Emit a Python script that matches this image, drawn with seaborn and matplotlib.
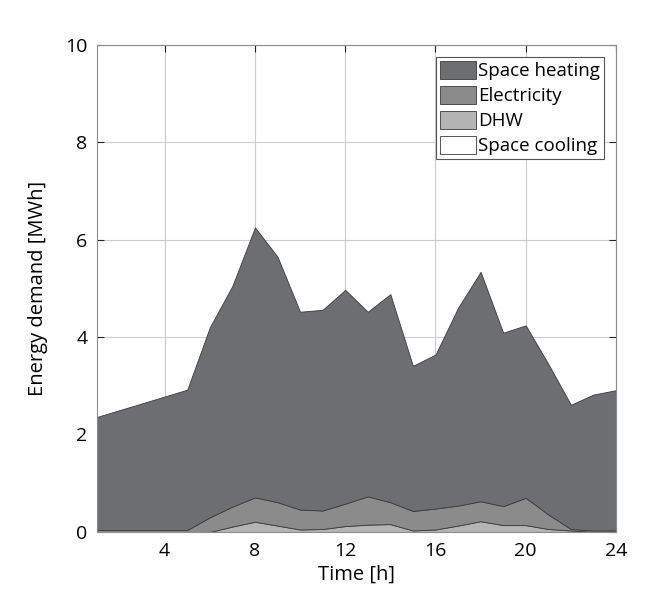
import numpy as np
import matplotlib
matplotlib.use("Agg")
import matplotlib.pyplot as plt
import seaborn as sns

# hourly energy demand [MWh]
hours = list(range(1, 25))
space_cooling = [0.0] * 24
dhw = [0.0, 0.0, 0.0, 0.0, 0.0, 0.0, 0.11, 0.21, 0.13, 0.05, 0.06, 0.12,
       0.15, 0.16, 0.03, 0.05, 0.13, 0.22, 0.14, 0.14, 0.06, 0.03, 0.0, 0.0]
electricity = [0.04, 0.04, 0.04, 0.04, 0.04, 0.30, 0.41, 0.50, 0.48, 0.41, 0.38, 0.46,
               0.58, 0.45, 0.40, 0.43, 0.41, 0.41, 0.39, 0.56, 0.30, 0.03, 0.03, 0.03]
space_heating = [2.32, 2.46, 2.60, 2.74, 2.88, 3.90, 4.53, 5.54, 5.04, 4.06, 4.12, 4.39,
                 3.79, 4.27, 2.98, 3.16, 4.06, 4.71, 3.56, 3.54, 3.09, 2.55, 2.79, 2.88]

labels = ["Space cooling", "DHW", "Electricity", "Space heating"]
colors = ["#ffffff", "#b4b4b4", "#8b8b8c", "#6d6e70"]

sns.set_style("whitegrid", {"grid.color": "#cccccc", "axes.edgecolor": "#8c8c8c",
                            "text.color": "black", "axes.labelcolor": "black",
                            "xtick.color": "black", "ytick.color": "black"})
plt.rcParams["font.family"] = ["Open Sans", "DejaVu Sans"]

fig = plt.figure(figsize=(6.62, 5.97), dpi=100)
ax = fig.add_axes([0.1465, 0.109, 0.784, 0.816])

polys = ax.stackplot(hours, space_cooling, dhw, electricity, space_heating,
                     colors=colors, edgecolor="#3a3a3a", linewidth=0.6, labels=labels)

ax.set_xlim(1, 24)
ax.set_ylim(0, 10)
ax.set_xticks([4, 8, 12, 16, 20, 24])
ax.set_yticks([0, 2, 4, 6, 8, 10])
ax.tick_params(direction="in", length=5, width=0.8, color="#222222",
               labelcolor="black", labelsize=14, top=True, right=True,
               bottom=True, left=True, labeltop=False, labelright=False, pad=7)
ax.grid(True, color="#cccccc", linewidth=0.8)
ax.set_axisbelow(True)
for s in ax.spines.values():
    s.set_color("#8c8c8c")
    s.set_linewidth(0.8)
ax.set_xlabel("Time [h]", fontsize=14.5, labelpad=4)
ax.set_ylabel("Energy demand [MWh]", fontsize=14.5, labelpad=12)

h, l = ax.get_legend_handles_labels()
leg = ax.legend(h[::-1], l[::-1], loc="upper right", bbox_to_anchor=(0.977, 0.975),
                fontsize=13.5, frameon=True, fancybox=False, framealpha=1,
                edgecolor="#555555", borderpad=0.2, labelspacing=0.3,
                handlelength=1.9, handleheight=1.1, handletextpad=0.15,
                borderaxespad=0)
leg.get_frame().set_linewidth(0.8)

fig.savefig("out.png", dpi=100, facecolor="white")
